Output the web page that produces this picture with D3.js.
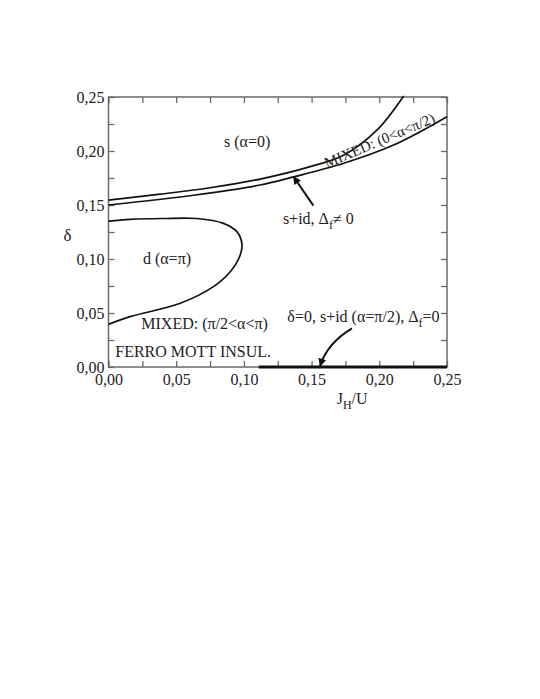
<!DOCTYPE html>
<html>
<head>
<meta charset="utf-8">
<script src="https://cdn.jsdelivr.net/npm/d3@7"></script>
<style>
  body { margin: 0; background: #fff; }
  text { font-family: "Liberation Serif", "DejaVu Serif", serif; fill: #222; }
</style>
</head>
<body>
<svg id="chart"></svg>
<script>
// ---- data (J_H/U, delta) ----
const xTicks = [0, 0.05, 0.10, 0.15, 0.20, 0.25];
const yTicks = [0, 0.05, 0.10, 0.15, 0.20, 0.25];

// upper boundary of the MIXED (0<a<pi/2) strip
const sBoundary = [[0, 0.1546], [0.0382, 0.160], [0.0751, 0.166], [0.112, 0.174],
  [0.149, 0.1855], [0.1736, 0.196], [0.198, 0.219], [0.218, 0.251]];
// lower boundary (s+id, Delta_f != 0)
const sidBoundary = [[0, 0.150], [0.0628, 0.159], [0.112, 0.1685], [0.1367, 0.176],
  [0.1737, 0.1886], [0.2105, 0.2055], [0.25, 0.2318]];
// closed-ish d region
const dBoundary = [[0, 0.135], [0.016, 0.1367], [0.04, 0.1375], [0.0653, 0.1375],
  [0.0849, 0.133], [0.0948, 0.1253], [0.0985, 0.1145], [0.0973, 0.1037],
  [0.0899, 0.0882], [0.0775, 0.0744], [0.053, 0.059], [0.016, 0.0466], [0, 0.0395]];
// delta = 0 line
const zeroLine = [[0.111, 0], [0.25, 0]];

// arrows: tail, (control), tip
const arrowStraight = [[0.1513, 0.1494], [0.1367, 0.1762]];
const arrowCurved = [[0.1798, 0.0358], [0.1615, 0.022], [0.1563, 0.001]];

const labels = [
  {x: 0.1024, y: 0.2037, anchor: "middle", parts: [["s (α=0)"]]},
  {x: 0.1613, y: 0.1840, anchor: "start", rotate: -23, size: 15, parts: [["MIXED: (0<α<π/2)"]]},
  {x: 0.1288, y: 0.1321, anchor: "start", parts: [["s+id, Δ"], ["f", "sub"], ["≠ 0", "after"]]},
  {x: 0.0254, y: 0.0957, anchor: "start", parts: [["d (α=π)"]]},
  {x: 0.0242, y: 0.0350, anchor: "start", parts: [["MIXED: (π/2<α<π)"]]},
  {x: 0.0050, y: 0.0095, anchor: "start", parts: [["FERRO MOTT INSUL."]]},
  {x: 0.1321, y: 0.0419, anchor: "start", parts: [["δ=0, s+id (α=π/2), Δ"], ["f", "sub"], ["=0", "after"]]}
];

// ---- layout ----
const width = 540, height = 699;
const margin = {top: 97, left: 108.5, right: 540 - 447, bottom: 699 - 367};
const innerW = width - margin.left - margin.right;
const innerH = height - margin.top - margin.bottom;

const svg = d3.select("#chart").attr("width", width).attr("height", height);
const g = svg.append("g").attr("transform", `translate(${margin.left},${margin.top})`);

const x = d3.scaleLinear().domain([0, 0.25]).range([0, innerW]);
const y = d3.scaleLinear().domain([0, 0.25]).range([innerH, 0]);

const fmt = d => d3.format(".2f")(d).replace(".", ",");
const minor = d3.range(0, 0.2501, 0.025);
const frameColor = "#6a6a6a";

// ticks on all four sides, pointing in
const axes = [
  {gen: d3.axisBottom(x), tr: `translate(0,${innerH})`},
  {gen: d3.axisTop(x), tr: "translate(0,0)"},
  {gen: d3.axisLeft(y), tr: "translate(0,0)"},
  {gen: d3.axisRight(y), tr: `translate(${innerW},0)`}
];
axes.forEach(a => {
  const ax = g.append("g").attr("transform", a.tr)
    .call(a.gen.tickValues(minor).tickSize(-6).tickFormat(""));
  ax.select(".domain").remove();
  ax.selectAll(".tick line").attr("stroke", frameColor).attr("stroke-width", 1.3);
});

// tick labels
g.append("g").attr("transform", `translate(0,${innerH})`)
  .call(d3.axisBottom(x).tickValues(xTicks).tickSize(0).tickPadding(7).tickFormat(fmt))
  .call(s => s.select(".domain").remove())
  .selectAll("text").attr("font-size", 16).attr("fill", "#222");
g.append("g")
  .call(d3.axisLeft(y).tickValues(yTicks).tickSize(0).tickPadding(4).tickFormat(fmt))
  .call(s => s.select(".domain").remove())
  .selectAll("text").attr("font-size", 16).attr("fill", "#222");

// frame
g.append("rect").attr("width", innerW).attr("height", innerH)
  .attr("fill", "none").attr("stroke", frameColor).attr("stroke-width", 1.5);

// axis titles
g.append("text").attr("x", -45).attr("y", y(0.117)).attr("font-size", 17).text("δ");
const xt = g.append("text").attr("x", x(0.1685)).attr("y", innerH + 37).attr("font-size", 16);
xt.append("tspan").text("J");
xt.append("tspan").attr("dy", 5).attr("font-size", 12).text("H");
xt.append("tspan").attr("dy", -5).text("/U");

// curves
const line = d3.line().x(d => x(d[0])).y(d => y(d[1])).curve(d3.curveCatmullRom.alpha(0.5));
const curves = g.append("g").attr("fill", "none").attr("stroke", "#111");
[sBoundary, sidBoundary, dBoundary].forEach(c => {
  curves.append("path").attr("d", line(c)).attr("stroke-width", 1.7);
});
curves.append("path").attr("d", d3.line().x(d => x(d[0])).y(d => y(d[1]))(zeroLine))
  .attr("stroke-width", 3);

// arrows
svg.append("defs").append("marker")
  .attr("id", "head").attr("viewBox", "0 0 10 10").attr("refX", 9).attr("refY", 5)
  .attr("markerWidth", 11).attr("markerHeight", 8).attr("markerUnits", "userSpaceOnUse")
  .attr("orient", "auto")
  .append("path").attr("d", "M0,0L10,5L0,10Z").attr("fill", "#111");

g.append("path")
  .attr("d", d3.line().x(d => x(d[0])).y(d => y(d[1]))(arrowStraight))
  .attr("stroke", "#111").attr("stroke-width", 2).attr("fill", "none")
  .attr("marker-end", "url(#head)");

const cp = d3.path();
cp.moveTo(x(arrowCurved[0][0]), y(arrowCurved[0][1]));
cp.quadraticCurveTo(x(arrowCurved[1][0]), y(arrowCurved[1][1]), x(arrowCurved[2][0]), y(arrowCurved[2][1]));
g.append("path").attr("d", cp.toString())
  .attr("stroke", "#111").attr("stroke-width", 2).attr("fill", "none")
  .attr("marker-end", "url(#head)");

// region labels
labels.forEach(l => {
  const t = g.append("text")
    .attr("font-size", l.size || 16)
    .attr("text-anchor", l.anchor)
    .attr("transform", `translate(${x(l.x)},${y(l.y)})` + (l.rotate ? ` rotate(${l.rotate})` : ""));
  l.parts.forEach(p => {
    const ts = t.append("tspan").text(p[0]);
    if (p[1] === "sub") ts.attr("dy", 5).attr("font-size", 12);
    if (p[1] === "after") ts.attr("dy", -5);
  });
});
</script>
</body>
</html>
